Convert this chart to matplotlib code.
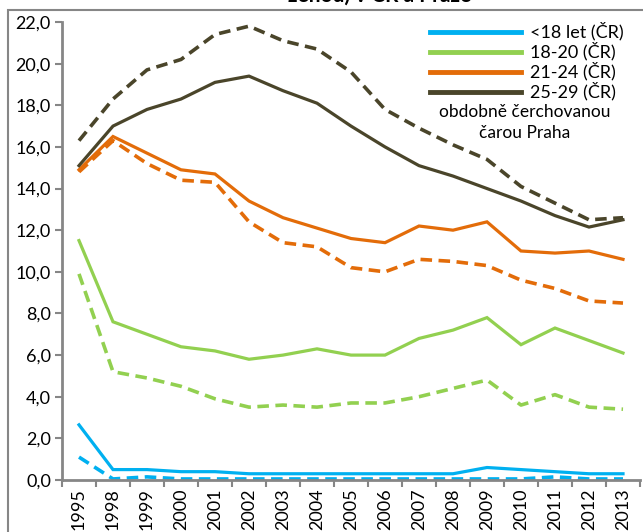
import matplotlib.pyplot as plt
import matplotlib.patches as patches
import numpy as np

plt.rcParams['font.family'] = ['Lato', 'DejaVu Sans']

years = ['1995', '1998', '1999', '2000', '2001', '2002', '2003', '2004', '2005',
         '2006', '2007', '2008', '2009', '2010', '2011', '2012', '2013']

# CR (solid)
cr_u18 = [2.65, 0.5, 0.5, 0.4, 0.4, 0.3, 0.3, 0.3, 0.3, 0.3, 0.3, 0.3, 0.6, 0.5, 0.4, 0.3, 0.3]
cr_18_20 = [11.5, 7.6, 7.0, 6.4, 6.2, 5.8, 6.0, 6.3, 6.0, 6.0, 6.8, 7.2, 7.8, 6.5, 7.3, 6.7, 6.1]
cr_21_24 = [14.9, 16.5, 15.7, 14.9, 14.7, 13.4, 12.6, 12.1, 11.6, 11.4, 12.2, 12.0, 12.4, 11.0, 10.9, 11.0, 10.6]
cr_25_29 = [15.1, 17.0, 17.8, 18.3, 19.1, 19.4, 18.7, 18.1, 17.0, 16.0, 15.1, 14.6, 14.0, 13.4, 12.7, 12.15, 12.5]

# Praha (dashed)
pr_u18 = [1.1, 0.05, 0.15, 0.05, 0.05, 0.05, 0.05, 0.05, 0.05, 0.05, 0.05, 0.05, 0.05, 0.05, 0.15, 0.05, 0.05]
pr_18_20 = [9.9, 5.2, 4.9, 4.5, 3.9, 3.5, 3.6, 3.5, 3.7, 3.7, 4.0, 4.4, 4.8, 3.6, 4.1, 3.5, 3.4]
pr_21_24 = [14.8, 16.3, 15.2, 14.4, 14.3, 12.4, 11.4, 11.2, 10.2, 10.0, 10.6, 10.5, 10.3, 9.6, 9.2, 8.6, 8.5]
pr_25_29 = [16.3, 18.3, 19.7, 20.2, 21.4, 21.8, 21.1, 20.7, 19.6, 17.8, 16.9, 16.1, 15.4, 14.1, 13.3, 12.5, 12.6]

labels = ['<18 let (ČR)', '18-20 (ČR)', '21-24 (ČR)', '25-29 (ČR)']
colors = ['#00B0F0', '#92D050', '#E36C09', '#4A452A']

fig = plt.figure(figsize=(6.43, 5.32), dpi=100)
ax = fig.add_axes([62 / 643, 1 - 480 / 532, 578 / 643, 458 / 532])

x = np.arange(len(years))
cr = [cr_u18, cr_18_20, cr_21_24, cr_25_29]
pr = [pr_u18, pr_18_20, pr_21_24, pr_25_29]
for vals, c, lab in zip(cr, colors, labels):
    ax.plot(x, vals, color=c, lw=2.3, label=lab, solid_joinstyle='miter')
for vals, c in zip(pr, colors):
    ax.plot(x, vals, color=c, lw=2.6, ls=(0, (3.2, 1.8)))

ax.set_xlim(-0.5, len(years) - 0.5)
ax.set_ylim(0, 22)
ax.set_yticks(np.arange(0, 22.1, 2))
ax.set_yticklabels([f'{v:.1f}'.replace('.', ',') for v in np.arange(0, 22.1, 2)], fontsize=13)
ax.set_xticks(x)
ax.set_xticklabels(years, rotation=90, fontsize=13)
ax.set_xticks(np.arange(-0.5, len(years), 1), minor=True)
ax.tick_params(axis='x', which='major', length=0, pad=6)
ax.tick_params(axis='x', which='minor', length=5, width=1.5, color='#868686', direction='out')
ax.tick_params(axis='y', length=5, width=1.5, color='#868686', pad=3)

for s in ['top', 'right']:
    ax.spines[s].set_visible(False)
for s in ['left', 'bottom']:
    ax.spines[s].set_color('#868686')
    ax.spines[s].set_linewidth(2)

leg = ax.legend(loc='upper right', bbox_to_anchor=(0.985, 1.015), frameon=False,
                fontsize=13, handlelength=5.0, handletextpad=0.55,
                labelspacing=0.08, borderaxespad=0)
for h in leg.get_lines():
    h.set_linewidth(3.5)
ax.text(0.80, 0.82, 'obdobně čerchovanou\nčarou Praha', transform=ax.transAxes,
        ha='center', va='top', fontsize=12.5, linespacing=1.35)

# outer chart frame and clipped title
fig.patches.append(patches.Rectangle((8 / 643, -0.1), 1.2, 1 - 10 / 532 + 0.1,
                                     transform=fig.transFigure, fill=False,
                                     edgecolor='#868686', lw=1.5))
fig.text(380 / 643, 1 + 6 / 532, 'ženou) v ČR a Praze', ha='center', va='center',
         fontsize=15, fontweight='bold')

fig.savefig('out.png', dpi=100)
